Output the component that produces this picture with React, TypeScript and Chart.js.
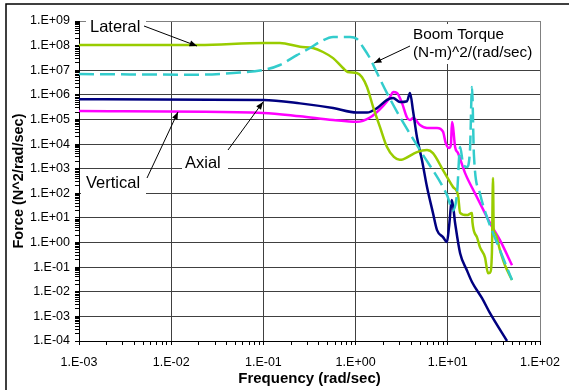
import React, { useEffect, useRef } from 'react';
import { Chart, registerables } from 'chart.js';

Chart.register(...registerables);

// ---- data (frequency in rad/sec, force/torque spectral density) ----
const lateralFreq = [0.001, 0.02, 0.1, 0.151, 0.25, 0.345, 0.443, 0.57, 0.73, 0.82, 1.03, 1.17, 1.33, 1.55, 1.84, 2.19, 2.6, 3.0, 3.27, 4.63, 5.95, 6.9, 8.87, 11.4, 12.9, 13.6, 16.1, 18.3, 18.5, 20.7, 22.3, 25.3, 27.3, 28.7, 30.1, 30.9, 31.5, 32.5, 36.8, 41.7, 49.7];
const lateralForce = [1.06e8, 1.06e8, 1.28e8, 1.28e8, 9e7, 8e7, 5.5e7, 3.1e7, 1.23e7, 8.5e6, 7.7e6, 5.3e6, 2.07e6, 3.2e5, 4.9e4, 7.6e3, 3e3, 2.3e3, 2.4e3, 4.7e3, 5.7e3, 4.3e3, 880, 180, 85, 16, 13, 15.7, 6.7, 1.66, 0.65, 0.25, 0.057, 0.06, 0.4, 415, 3, 2.4, 0.49, 0.12, 0.03];

const boomFreq = [0.001, 0.02, 0.047, 0.1, 0.151, 0.231, 0.32, 0.41, 0.57, 0.87, 1.035, 1.2, 1.43, 1.71, 2.19, 3.03, 4.99, 9.8, 11.4, 12.6, 13.6, 14.6, 16.1, 17.4, 18.3, 19.2, 22.3, 26.6, 36.8, 49.7];
const boomTorque = [7.0e6, 6.6e6, 7.7e6, 1.02e7, 1.63e7, 4.1e7, 8.0e7, 1.4e8, 2.24e8, 2.24e8, 1.85e8, 8.8e7, 3.1e7, 7.7e6, 1.18e6, 1.25e5, 5.7e3, 85, 20, 100, 7.6e3, 1.7e3, 1.16e3, 5.7e3, 2.07e6, 3.6e3, 100, 10.8, 0.49, 0.03];

const axialFreq = [0.001, 0.1, 0.25, 0.57, 1.03, 1.33, 1.71, 2.19, 2.55, 3.03, 3.61, 3.89, 4.2, 4.63, 5.25, 5.95, 6.91, 7.64, 8.87, 9.8, 10.3, 11.1, 12.0, 13.6, 16.1, 18.3, 23.5, 28.7, 43.9];
const axialForce = [6.7e5, 6.2e5, 4.5e5, 2.9e5, 1.9e5, 1.9e5, 2.9e5, 6.2e5, 7.4e5, 5.1e5, 5.5e5, 1.2e6, 2.2e5, 1.9e4, 2.2e3, 180, 15.7, 3.2, 1.66, 1.04, 4.2, 53, 6.2, 0.37, 0.075, 0.025, 0.0055, 1.35e-3, 1.0e-4];

const verticalFreq = [0.001, 0.1, 0.25, 0.57, 1.03, 1.43, 1.98, 2.36, 2.55, 2.81, 3.19, 3.61, 3.89, 4.2, 4.99, 5.95, 7.64, 8.87, 9.5, 10.3, 10.8, 11.1, 11.4, 12.0, 12.9, 15.4, 19.7, 26.6, 28.7, 36.8, 49.7];
const verticalForce = [2.2e5, 1.85e5, 1.35e5, 9.5e4, 8.0e4, 1.2e5, 3.5e5, 8.0e5, 1.3e6, 1.18e6, 4.6e5, 1.2e5, 9.5e4, 1.14e5, 6.0e4, 4.5e4, 4.5e4, 3.2e4, 1.1e4, 7.0e3, 9.0e3, 7.8e4, 5.0e4, 7.6e3, 4.3e3, 660, 100, 10.8, 6.2, 1.25, 0.12];

const xTickLabels = ['1.E-03', '1.E-02', '1.E-01', '1.E+00', '1.E+01', '1.E+02'];
const yTickLabels = ['1.E-04', '1.E-03', '1.E-02', '1.E-01', '1.E+00', '1.E+01', '1.E+02', '1.E+03', '1.E+04', '1.E+05', '1.E+06', '1.E+07', '1.E+08', '1.E+09'];

const FONT = '"Liberation Sans", Arial, sans-serif';

function pts(xs: number[], ys: number[]) {
  return xs.map((x, i) => ({ x, y: ys[i] }));
}
function isMajor(v: number) {
  const l = Math.log10(v);
  return Math.abs(l - Math.round(l)) < 1e-6;
}
function logTicks(lo: number, hi: number) {
  const t: { value: number }[] = [];
  for (let e = lo; e < hi; e++) for (let m = 1; m < 10; m++) t.push({ value: m * Math.pow(10, e) });
  t.push({ value: Math.pow(10, hi) });
  return t;
}

function arrow(ctx: CanvasRenderingContext2D, x1: number, y1: number, x2: number, y2: number) {
  ctx.beginPath();
  ctx.moveTo(x1, y1);
  ctx.lineTo(x2, y2);
  ctx.lineWidth = 1;
  ctx.strokeStyle = '#000';
  ctx.stroke();
  const a = Math.atan2(y2 - y1, x2 - x1);
  const len = 8, w = 0.38;
  ctx.beginPath();
  ctx.moveTo(x2, y2);
  ctx.lineTo(x2 - len * Math.cos(a - w), y2 - len * Math.sin(a - w));
  ctx.lineTo(x2 - len * Math.cos(a + w), y2 - len * Math.sin(a + w));
  ctx.closePath();
  ctx.fillStyle = '#000';
  ctx.fill();
}

const annotations = {
  id: 'annotations',
  afterDraw(chart: any) {
    const ctx: CanvasRenderingContext2D = chart.ctx;
    ctx.save();
    // outer frame (left/top visible)
    ctx.strokeStyle = '#000';
    ctx.lineWidth = 1.5;
    ctx.strokeRect(6, 4, 700, 500);
    // label boxes
    ctx.fillStyle = '#fff';
    ctx.fillRect(86, 14, 60, 22);
    ctx.fillRect(409, 24, 129, 40);
    ctx.fillRect(182, 150, 46, 26);
    ctx.fillRect(81, 170, 65, 26);
    ctx.fillStyle = '#000';
    ctx.textBaseline = 'alphabetic';
    ctx.textAlign = 'left';
    ctx.font = `16.5px ${FONT}`;
    ctx.fillText('Lateral', 90, 32);
    ctx.fillText('Axial', 185, 168);
    ctx.fillText('Vertical', 86, 188);
    ctx.font = `15.3px ${FONT}`;
    ctx.fillText('Boom Torque', 413, 39);
    ctx.fillText('(N-m)^2/(rad/sec)', 413, 57);
    arrow(ctx, 144, 26, 197, 46);
    arrow(ctx, 410, 46, 374, 63);
    arrow(ctx, 228, 150, 263, 102);
    arrow(ctx, 147, 178, 178, 112);
    ctx.restore();
  },
};

export default function App() {
  const ref = useRef<HTMLCanvasElement>(null);
  useEffect(() => {
    const base = { pointRadius: 0, borderWidth: 2.5, cubicInterpolationMode: 'monotone' as const, fill: false };
    const chart = new Chart(ref.current!, {
      type: 'line',
      data: {
        datasets: [
          { ...base, label: 'Vertical', data: pts(verticalFreq, verticalForce), borderColor: '#FF00FF', order: 4 },
          { ...base, label: 'Axial', data: pts(axialFreq, axialForce), borderColor: '#000080', order: 3 },
          { ...base, label: 'Lateral', data: pts(lateralFreq, lateralForce), borderColor: '#99CC00', order: 2 },
          { ...base, label: 'Boom Torque', data: pts(boomFreq, boomTorque), borderColor: '#33CCCC', borderDash: [15, 6], order: 1 },
        ],
      },
      options: {
        responsive: false,
        animation: false,
        parsing: true,
        layout: { padding: { left: 0, right: 29, top: 21, bottom: 0 } },
        plugins: { legend: { display: false }, tooltip: { enabled: false }, title: { display: false } },
        scales: {
          x: {
            type: 'logarithmic',
            min: 1e-3,
            max: 1e2,
            afterBuildTicks: (s: any) => { s.ticks = logTicks(-3, 2); },
            afterFit: (s: any) => { s.height = 49; s.paddingLeft = 0; s.paddingRight = 0; },
            ticks: {
              autoSkip: false,
              maxRotation: 0,
              padding: 10,
              color: '#000',
              font: { family: FONT, size: 12.5 },
              callback: (v: any) => (isMajor(Number(v)) ? xTickLabels[Math.round(Math.log10(Number(v))) + 3] : ''),
            },
            grid: {
              color: (c: any) => {
                if (!c.tick || !isMajor(c.tick.value)) return 'rgba(0,0,0,0)';
                return Math.round(Math.log10(c.tick.value)) === 2 ? '#808080' : '#404040';
              },
              tickColor: '#000',
              tickLength: 4,
              lineWidth: 1,
            },
            border: { color: '#000', width: 1 },
            title: { display: true, text: 'Frequency (rad/sec)', color: '#000', font: { family: FONT, size: 15, weight: 'bold' }, padding: { top: 0, bottom: 2 } },
          },
          y: {
            type: 'logarithmic',
            min: 1e-4,
            max: 1e9,
            afterBuildTicks: (s: any) => { s.ticks = logTicks(-4, 9); },
            afterFit: (s: any) => { s.width = 79; s.paddingTop = 0; s.paddingBottom = 0; },
            ticks: {
              autoSkip: false,
              padding: 5,
              color: '#000',
              font: { family: FONT, size: 12.5 },
              callback: (v: any) => (isMajor(Number(v)) ? yTickLabels[Math.round(Math.log10(Number(v))) + 4] : ''),
            },
            grid: {
              color: (c: any) => {
                if (!c.tick || !isMajor(c.tick.value)) return 'rgba(0,0,0,0)';
                const e = Math.round(Math.log10(c.tick.value));
                if (e === 8) return 'rgba(0,0,0,0)';
                return e === 9 ? '#808080' : '#404040';
              },
              tickColor: '#000',
              tickLength: 4,
              lineWidth: 1,
            },
            border: { color: '#000', width: 1 },
            title: { display: true, text: 'Force (N^2/rad/sec)', color: '#000', font: { family: FONT, size: 14.5, weight: 'bold' }, padding: { top: 10, bottom: 0 } },
          },
        },
      },
      plugins: [annotations],
    } as any);
    return () => chart.destroy();
  }, []);
  return (
    <div style={{ position: 'absolute', left: 0, top: 0, width: 569, height: 390, background: '#fff' }}>
      <canvas ref={ref} width={569} height={390} style={{ width: 569, height: 390, display: 'block' }} />
    </div>
  );
}
